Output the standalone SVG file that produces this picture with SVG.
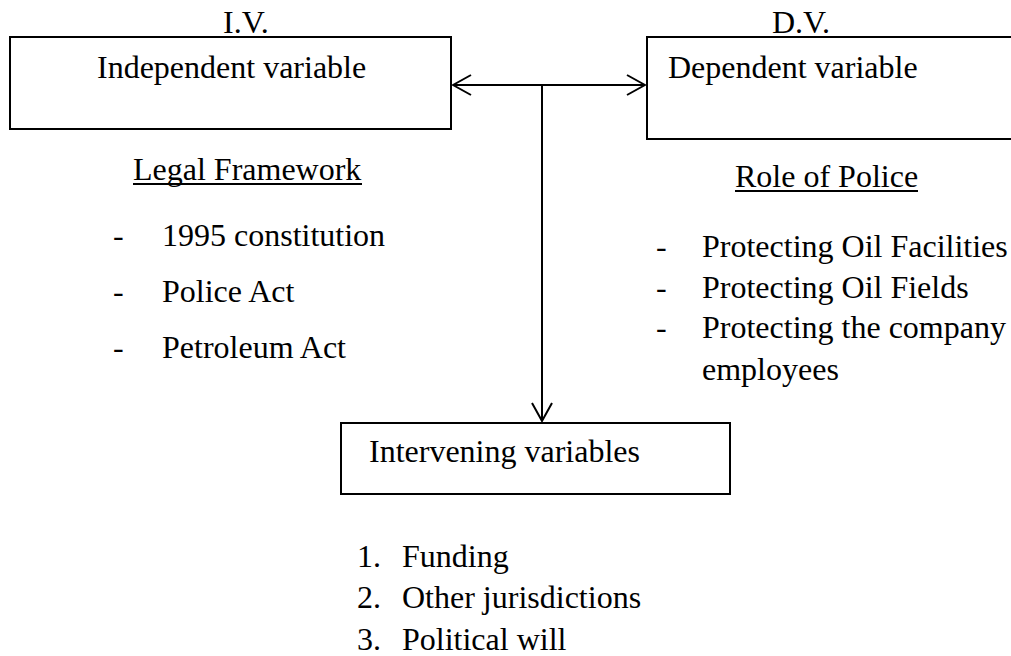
<svg xmlns="http://www.w3.org/2000/svg" width="1011" height="656" viewBox="0 0 1011 656">
<defs>
<style>
text{font-family:"Liberation Serif","Times New Roman",serif;font-size:32px;fill:#000}
.box{fill:#fff;stroke:#000;stroke-width:2}
.ln{fill:none;stroke:#000;stroke-width:2}
.ul{stroke:#000;stroke-width:2}
</style>
<marker id="ah" viewBox="0 0 20 24" refX="19" refY="12" markerWidth="20" markerHeight="24" markerUnits="userSpaceOnUse" orient="auto-start-reverse">
<path d="M1,2 L19,12 L1,22" fill="none" stroke="#000" stroke-width="2"/>
</marker>
</defs>
<rect width="1011" height="656" fill="#fff"/>
<g id="iv">
<text x="223" y="33">I.V.</text>
<rect class="box" x="10" y="37" width="441" height="92"/>
<text x="97" y="78">Independent variable</text>
</g>
<g id="dv">
<text x="772" y="33">D.V.</text>
<rect class="box" x="647" y="37" width="400" height="102"/>
<text x="668" y="78">Dependent variable</text>
</g>
<g id="legal">
<text x="133" y="180">Legal Framework</text>
<line class="ul" x1="133" y1="184" x2="362" y2="184"/>
<text x="113" y="246">-</text><text x="162" y="246">1995 constitution</text>
<text x="113" y="302">-</text><text x="162" y="302">Police Act</text>
<text x="113" y="358">-</text><text x="162" y="358">Petroleum Act</text>
</g>
<g id="role">
<text x="735" y="187">Role of Police</text>
<line class="ul" x1="735" y1="191" x2="918" y2="191"/>
<text x="656" y="257">-</text><text x="702" y="257">Protecting Oil Facilities</text>
<text x="656" y="298">-</text><text x="702" y="298">Protecting Oil Fields</text>
<text x="656" y="338">-</text><text x="702" y="338">Protecting the company</text>
<text x="702" y="380">employees</text>
</g>
<g id="intervening">
<rect class="box" x="341" y="423" width="389" height="71"/>
<text x="369" y="462">Intervening variables</text>
<text x="357" y="567">1.</text><text x="402" y="567">Funding</text>
<text x="357" y="608">2.</text><text x="402" y="608">Other jurisdictions</text>
<text x="357" y="650">3.</text><text x="402" y="650">Political will</text>
</g>
<g id="connectors">
<line class="ln" x1="453" y1="85" x2="645" y2="85" marker-start="url(#ah)" marker-end="url(#ah)"/>
<line class="ln" x1="542" y1="85" x2="542" y2="421" marker-end="url(#ah)"/>
</g>
</svg>
